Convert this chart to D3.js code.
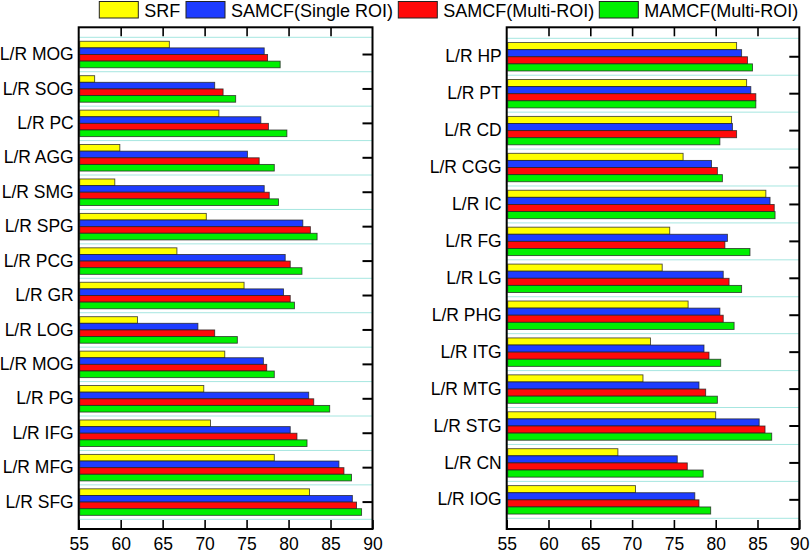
<!DOCTYPE html>
<html><head><meta charset="utf-8">
<script src="https://cdnjs.cloudflare.com/ajax/libs/d3/7.8.5/d3.min.js"></script>
<style>
body{margin:0;background:#fff;}
svg{display:block;font-family:"Liberation Sans",Arial,sans-serif;}
</style></head><body>
<svg id="chart" width="810" height="554"></svg>
<script>
const seriesNames = ["SRF","SAMCF(Single ROI)","SAMCF(Multi-ROI)","MAMCF(Multi-ROI)"];
const seriesColors = ["#ffff00","#1e3cff","#ff0a0a","#00f000"];

const leftCategories = ["L/R MOG","L/R SOG","L/R PC","L/R AGG","L/R SMG","L/R SPG","L/R PCG","L/R GR","L/R LOG","L/R MOG ","L/R PG","L/R IFG","L/R MFG","L/R SFG"];
const leftSRF   = [65.8,56.9,71.7,59.9,59.3,70.2,66.7,74.7,62.0,72.4,69.9,70.7,78.3,82.5];
const leftSingle= [77.1,71.2,76.7,75.1,77.1,81.7,79.6,79.4,69.2,77.0,82.4,80.2,86.0,87.6];
const leftMulti = [77.5,72.2,77.6,76.5,77.7,82.6,80.2,80.2,71.2,77.4,83.0,81.0,86.6,88.1];
const leftMAMCF = [79.0,73.7,79.8,78.3,78.8,83.4,81.6,80.7,73.9,78.3,84.9,82.2,87.5,88.7];

const rightCategories = ["L/R HP","L/R PT","L/R CD","L/R CGG","L/R IC","L/R FG","L/R LG","L/R PHG","L/R ITG","L/R MTG","L/R STG","L/R CN","L/R IOG"];
const rightSRF   = [82.5,83.7,81.9,76.1,86.0,74.5,73.6,76.7,72.2,71.3,80.0,68.3,70.4];
const rightSingle= [83.1,84.2,82.0,79.5,86.5,81.4,80.9,80.5,78.6,78.0,85.2,75.4,77.5];
const rightMulti = [83.8,84.8,82.5,80.2,87.0,81.1,81.6,80.9,79.2,78.8,85.9,76.6,78.0];
const rightMAMCF = [84.4,84.8,80.5,80.8,87.1,84.1,83.1,82.2,80.6,80.2,86.7,78.5,79.4];

const xTicks = [55,60,65,70,75,80,85,90];

const svg = d3.select("#chart");

function panel(cfg){
  const {x0,x1,yTop,yBot,frameTop,frameBot,cats,vals} = cfg;
  const g = svg.append("g");
  const x = d3.scaleLinear().domain([55,90]).range([x0,x1]);
  const y = d3.scaleBand().domain(cats).range([yTop,yBot]).padding(0);
  const inner = d3.scaleBand().domain(d3.range(4)).range([y.bandwidth()*0.115, y.bandwidth()*0.885]).padding(0);

  const bounds = cats.map(c=>y(c)).concat([yBot]);
  g.selectAll("line.grid").data(bounds).join("line")
    .attr("x1",x0).attr("x2",x1).attr("y1",d=>d).attr("y2",d=>d)
    .attr("stroke","#a6e6e0").attr("stroke-width",1);

  const rows = cats.map((c,i)=>({c, v: vals.map(s=>s[i])}));
  const grp = g.selectAll("g.cat").data(rows).join("g")
    .attr("transform",d=>`translate(0,${y(d.c)})`);
  grp.selectAll("rect").data(d=>d.v.map((v,k)=>({v,k}))).join("rect")
    .attr("x",x(55)+1).attr("y",d=>inner(d.k))
    .attr("width",d=>x(d.v)-x(55)-1).attr("height",inner.bandwidth())
    .attr("fill",d=>seriesColors[d.k])
    .attr("stroke","#222").attr("stroke-opacity",0.8).attr("stroke-width",0.9);

  const bAxis = g.append("g").attr("transform",`translate(0,${frameBot})`)
    .call(d3.axisBottom(x).tickValues(xTicks).tickSize(-9).tickPadding(9).tickFormat(d3.format("d")));
  bAxis.select(".domain").remove();
  bAxis.selectAll("line").attr("stroke","#000").attr("stroke-width",1.6);
  bAxis.selectAll("text").attr("font-size",17.5).attr("fill","#000")
    .attr("font-family","'Liberation Sans',Arial,sans-serif");

  const tAxis = g.append("g").attr("transform",`translate(0,${frameTop})`)
    .call(d3.axisTop(x).tickValues(xTicks.slice(1,-1)).tickSize(-9).tickFormat(""));
  tAxis.select(".domain").remove();
  tAxis.selectAll("line").attr("stroke","#000").attr("stroke-width",1.6);

  const lAxis = g.append("g").attr("transform",`translate(${x0},0)`)
    .call(d3.axisLeft(y).tickSize(0).tickPadding(5));
  lAxis.select(".domain").remove();
  lAxis.selectAll("text").attr("font-size",17.5).attr("fill","#000")
    .attr("font-family","'Liberation Sans',Arial,sans-serif");

  const rAxis = g.append("g").attr("transform",`translate(${x1},0)`)
    .call(d3.axisRight(y).tickSize(-10).tickFormat(""));
  rAxis.select(".domain").remove();
  rAxis.selectAll("line").attr("stroke","#000").attr("stroke-width",2);

  g.append("rect").attr("x",x0).attr("y",frameTop).attr("width",x1-x0).attr("height",frameBot-frameTop)
    .attr("fill","none").attr("stroke","#000").attr("stroke-width",2);
}

panel({x0:78.7,x1:372.5,yTop:37.3,yBot:519.3,frameTop:27.3,frameBot:529,
  cats:leftCategories, vals:[leftSRF,leftSingle,leftMulti,leftMAMCF]});
panel({x0:506.7,x1:799.3,yTop:38.3,yBot:518.3,frameTop:27.3,frameBot:529,
  cats:rightCategories, vals:[rightSRF,rightSingle,rightMulti,rightMAMCF]});

const legendX = [99.3,186,398.3,599.3];
const leg = svg.append("g");
seriesNames.forEach((n,i)=>{
  leg.append("rect").attr("x",legendX[i]).attr("y",1.5).attr("width",39).attr("height",16.5)
    .attr("fill",seriesColors[i]).attr("stroke","#222").attr("stroke-width",1);
  leg.append("text").attr("x",legendX[i]+45).attr("y",16.5).attr("font-size",18)
    .attr("fill","#000").text(n);
});
</script></body></html>
